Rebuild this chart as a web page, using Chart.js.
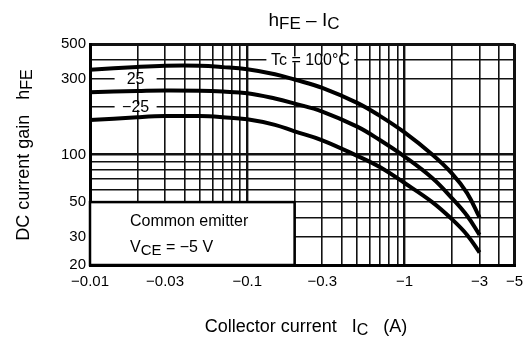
<!DOCTYPE html>
<html>
<head>
<meta charset="utf-8">
<script src="https://cdn.jsdelivr.net/npm/chart.js@4.4.1/dist/chart.umd.min.js"></script>
<style>
  html, body { margin: 0; padding: 0; background: #fff; }
  #wrap { position: relative; width: 531px; height: 344px; }
</style>
</head>
<body>
<div id="wrap"><canvas id="chart"></canvas></div>
<script>
// collector current (A, magnitude) and hFE
const currentA = [0.01, 0.02, 0.03, 0.05, 0.07, 0.1, 0.15, 0.2, 0.3, 0.5, 0.7, 1, 1.5, 2, 2.5, 3];
const gain100 = [343, 358, 364, 364, 357, 346, 322, 298, 264, 212, 175, 138, 100, 76, 57, 40];
const gain25 = [248, 252, 254, 253, 250, 244, 226, 210, 187, 150, 123, 97, 71, 53, 41, 31];
const gainM25 = [165, 172, 175, 175, 172, 167, 154, 140, 123, 98, 83, 66, 50, 39, 31, 24];

// grid lines and labelled ticks
const xGrid = [0.01, 0.02, 0.03, 0.04, 0.05, 0.06, 0.07, 0.08, 0.09,
               0.1, 0.2, 0.3, 0.4, 0.5, 0.6, 0.7, 0.8, 0.9,
               1, 2, 3, 4, 5];
const xLabels = [0.01, 0.03, 0.1, 0.3, 1, 3, 5];
const yGrid = [20, 30, 40, 50, 60, 70, 80, 90, 100, 200, 300, 400, 500];
const yLabels = [20, 30, 50, 100, 300, 500];

const FONT = "'Liberation Sans', Arial, sans-serif";

function toPoints(ys) {
  return currentA.map((x, i) => ({ x: x, y: ys[i] }));
}

// text built from pieces, some of them lowered as subscripts
function drawParts(ctx, parts, x, y) {
  let w = 0;
  parts.forEach(p => {
    ctx.font = p.size + 'px ' + FONT;
    p.w = ctx.measureText(p.t).width;
    w += p.w;
  });
  let cx = x - w / 2;
  parts.forEach(p => {
    ctx.font = p.size + 'px ' + FONT;
    ctx.fillText(p.t, cx, y + (p.dy || 0));
    cx += p.w;
  });
}

const extras = {
  id: 'extras',
  beforeDatasetsDraw(chart) {
    const { ctx, scales: { x, y } } = chart;
    ctx.save();
    // "Common emitter" box
    const bx0 = x.getPixelForValue(0.01), bx1 = x.getPixelForValue(0.2);
    const by0 = y.getPixelForValue(50), by1 = y.getPixelForValue(20);
    ctx.fillStyle = '#fff';
    ctx.fillRect(bx0, by0, bx1 - bx0, by1 - by0);
    ctx.strokeStyle = '#000';
    ctx.lineWidth = 2.5;
    ctx.strokeRect(bx0, by0, bx1 - bx0, by1 - by0);
    ctx.fillStyle = '#000';
    ctx.textBaseline = 'alphabetic';
    ctx.textAlign = 'left';
    ctx.font = '16px ' + FONT;
    ctx.fillText('Common emitter', bx0 + 40, by0 + 24);
    let tx = bx0 + 40;
    ctx.fillText('V', tx, by0 + 50);
    tx += ctx.measureText('V').width;
    ctx.font = '15px ' + FONT;
    ctx.fillText('CE', tx, by0 + 53);
    tx += ctx.measureText('CE').width;
    ctx.font = '16px ' + FONT;
    ctx.fillText(' = \u22125 V', tx, by0 + 50);

    // curve labels sitting on grid lines
    const tags = [
      { t: 'Tc = 100\u00B0C', xv: 0.252, yv: 400, w: 88 },
      { t: '25', xv: 0.0195, yv: 300, w: 42 },
      { t: '\u221225', xv: 0.0195, yv: 200, w: 42 }
    ];
    ctx.font = '16px ' + FONT;
    ctx.textAlign = 'center';
    ctx.textBaseline = 'middle';
    tags.forEach(g => {
      const px = x.getPixelForValue(g.xv), py = y.getPixelForValue(g.yv);
      ctx.fillStyle = '#fff';
      ctx.fillRect(px - g.w / 2, py - 3, g.w, 6);
      ctx.fillStyle = '#000';
      ctx.fillText(g.t, px, py + 1);
    });
    ctx.restore();
  },
  afterDraw(chart) {
    const { ctx } = chart;
    ctx.save();
    ctx.fillStyle = '#000';
    ctx.textAlign = 'left';
    ctx.textBaseline = 'alphabetic';
    // chart title
    drawParts(ctx, [
      { t: 'h', size: 19 }, { t: 'FE', size: 17, dy: 3 },
      { t: ' \u2013 I', size: 19 }, { t: 'C', size: 17, dy: 3 }
    ], 304, 26);
    // x axis title
    drawParts(ctx, [
      { t: 'Collector current   I', size: 18 }, { t: 'C', size: 16, dy: 3 },
      { t: '   (A)', size: 18 }
    ], 306, 332);
    // y axis title
    ctx.translate(29, 155);
    ctx.rotate(-Math.PI / 2);
    drawParts(ctx, [
      { t: 'DC current gain   h', size: 18 }, { t: 'FE', size: 16, dy: 3 }
    ], 0, 0);
    ctx.restore();
  }
};

function gridWidth(ctx, major, edges) {
  const v = ctx.tick && ctx.tick.value;
  if (edges.includes(v)) return 3;
  if (major.includes(v)) return 2.4;
  return 1.6;
}

const curve = (ys) => ({
  data: toPoints(ys),
  borderColor: '#000',
  borderWidth: 4,
  pointRadius: 0,
  tension: 0.4,
  fill: false
});

new Chart(document.getElementById('chart'), {
  type: 'line',
  data: {
    datasets: [curve(gain100), curve(gain25), curve(gainM25)]
  },
  options: {
    responsive: true,
    maintainAspectRatio: false,
    animation: false,
    layout: { padding: { top: 44, right: 14, left: 0, bottom: 0 } },
    plugins: { legend: { display: false }, tooltip: { enabled: false } },
    scales: {
      x: {
        type: 'logarithmic',
        min: 0.01,
        max: 5,
        afterBuildTicks: (s) => { s.ticks = xGrid.map(v => ({ value: v })); },
        afterFit: (s) => { s.height = 79; },
        border: { display: true, color: '#000', width: 3 },
        grid: {
          color: '#111',
          lineWidth: (c) => gridWidth(c, [0.1, 1], [0.01, 5]),
          drawTicks: false
        },
        ticks: {
          autoSkip: false,
          maxRotation: 0,
          padding: 8,
          color: '#000',
          font: { family: FONT, size: 15 },
          callback: (v) => xLabels.includes(v) ? '\u2212' + v : ''
        }
      },
      y: {
        type: 'logarithmic',
        min: 20,
        max: 500,
        afterBuildTicks: (s) => { s.ticks = yGrid.map(v => ({ value: v })); },
        afterFit: (s) => { s.width = 90; },
        border: { display: true, color: '#000', width: 3 },
        grid: {
          color: '#111',
          lineWidth: (c) => gridWidth(c, [100], [20, 500]),
          drawTicks: false
        },
        ticks: {
          autoSkip: false,
          padding: 4,
          color: '#000',
          font: { family: FONT, size: 15 },
          callback: (v) => yLabels.includes(v) ? String(v) : ''
        }
      }
    }
  },
  plugins: [extras]
});
</script>
</body>
</html>
